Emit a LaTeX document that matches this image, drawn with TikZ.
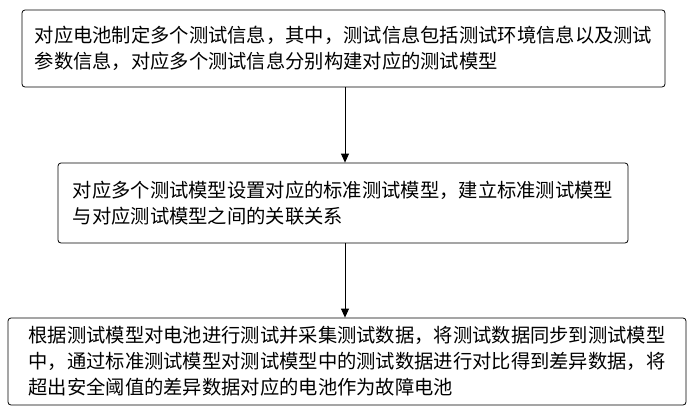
\documentclass[tikz,border=0pt]{standalone}
\usepackage{fontspec}
\setmainfont{Noto Sans CJK SC}
\usetikzlibrary{positioning, arrows.meta}
\tikzset{stepbox/.style={draw, thick, rounded corners=3pt, align=left, inner sep=0pt,
  font=\fontsize{19.3pt}{26pt}\selectfont}}
\tikzset{flow/.style={-{Triangle[length=9pt,width=8pt]}, thick}}
\begin{document}
\begin{tikzpicture}[x=1pt, y=-1pt]
  \useasboundingbox (0,0) rectangle (694,413);
  \node[stepbox, minimum width=643pt, minimum height=77pt] (s1) at (343.5,48.5)
    {对应电池制定多个测试信息，其中，测试信息包括测试环境信息以及测试\\参数信息，对应多个测试信息分别构建对应的测试模型};
  \node[stepbox, minimum width=570pt, minimum height=80pt] (s2) at (343,203)
    {对应多个测试模型设置对应的标准测试模型，建立标准测试模型\\与对应测试模型之间的关联关系};
  \node[stepbox, minimum width=678pt, minimum height=87pt] (s3) at (347,361.5)
    {根据测试模型对电池进行测试并采集测试数据，将测试数据同步到测试模型\\中，通过标准测试模型对测试模型中的测试数据进行对比得到差异数据，将\\超出安全阈值的差异数据对应的电池作为故障电池};

  \draw[flow] (s1.south -| 345,0) -- (s2.north -| 345,0);
  \draw[flow] (s2.south -| 345,0) -- (s3.north -| 345,0);
\end{tikzpicture}
\end{document}
